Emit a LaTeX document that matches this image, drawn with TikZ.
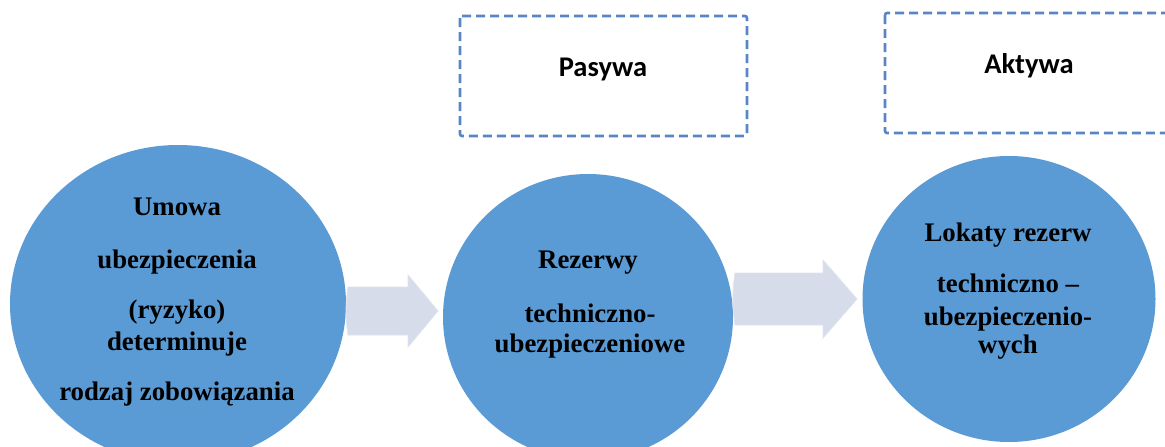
\documentclass[tikz,border=0pt]{standalone}
\usepackage{fontspec}
\setmainfont{Liberation Serif}
\newfontfamily\calib{Carlito}
\usetikzlibrary{shapes.geometric,calc}
\definecolor{circblue}{RGB}{91,155,213}
\definecolor{arrowfill}{RGB}{214,220,234}
\definecolor{dashblue}{RGB}{88,134,196}
\tikzset{
  x=1pt,y=1pt,
  circ/.style={ellipse,fill=circblue,draw=none,inner sep=0pt},
  txt/.style={anchor=base,inner sep=0pt,font=\fontsize{26.8}{31}\selectfont\bfseries},
  lbl/.style={anchor=base,inner sep=0pt,font=\calib\fontsize{28.5}{32}\selectfont\bfseries},
  dbox/.style={draw=dashblue,line width=2.6pt,dash pattern=on 9pt off 5pt,rounded corners=2pt},
  blockarrow/.style={fill=arrowfill,draw=arrowfill!80!white,line width=0.8pt}
}
\begin{document}
\begin{tikzpicture}
\clip (0,0) rectangle (1165,-447);
\fill[white] (0,0) rectangle (1165,-447);
% dashed boxes
\draw[dbox] (460,-16) rectangle (747,-136);
\draw[dbox] (885,-13) rectangle (1190,-133);
\node[lbl] (pas) at (603,-76) {Pasywa};
\node[lbl] (akt) at (1029,-73) {Aktywa};
% circles
\node[circ,minimum width=336pt,minimum height=318pt] (c1) at (178,-304) {};
\node[circ,minimum width=290pt,minimum height=286pt] (c2) at (588,-317) {};
\node[circ,minimum width=293pt,minimum height=286pt] (c3) at (1009,-299) {};
% block arrows
\coordinate (a1s) at (348,-311);
\coordinate (a1t) at (438,-311);
\fill[blockarrow] ($(a1s)+(0,24)$) -- ++(60,0) -- ++(0,12) -- (a1t) -- ++(-30,-36) -- ++(0,12) -- ++(-60,0) to[bend left=8] cycle;
\coordinate (a2s) at (735,-299);
\coordinate (a2t) at (857,-299);
\fill[blockarrow] ($(a2s)+(0,26)$) -- ++(88,0) -- ++(0,13) -- (a2t) -- ++(-34,-39) -- ++(0,13) -- ++(-88,0) to[bend left=8] cycle;
% circle 1 text
\node[txt] (t11) at (177,-215) {Umowa};
\node[txt] (t12) at (177,-268) {ubezpieczenia};
\node[txt] (t13) at (177,-318) {(ryzyko)};
\node[txt] (t14) at (177,-350) {determinuje};
\node[txt] (t15) at (177,-400) {rodzaj zobowiązania};
% circle 2 text
\node[txt] (t21) at (588,-268) {Rezerwy};
\node[txt] (t22) at (590,-322) {techniczno-};
\node[txt] (t23) at (590,-352) {ubezpieczeniowe};
% circle 3 text
\node[txt] (t31) at (1008,-241) {Lokaty rezerw};
\node[txt] (t32) at (1008,-292) {techniczno --};
\node[txt] (t33) at (1008,-325) {ubezpieczenio-};
\node[txt] (t34) at (1008,-353) {wych};
\end{tikzpicture}
\end{document}
